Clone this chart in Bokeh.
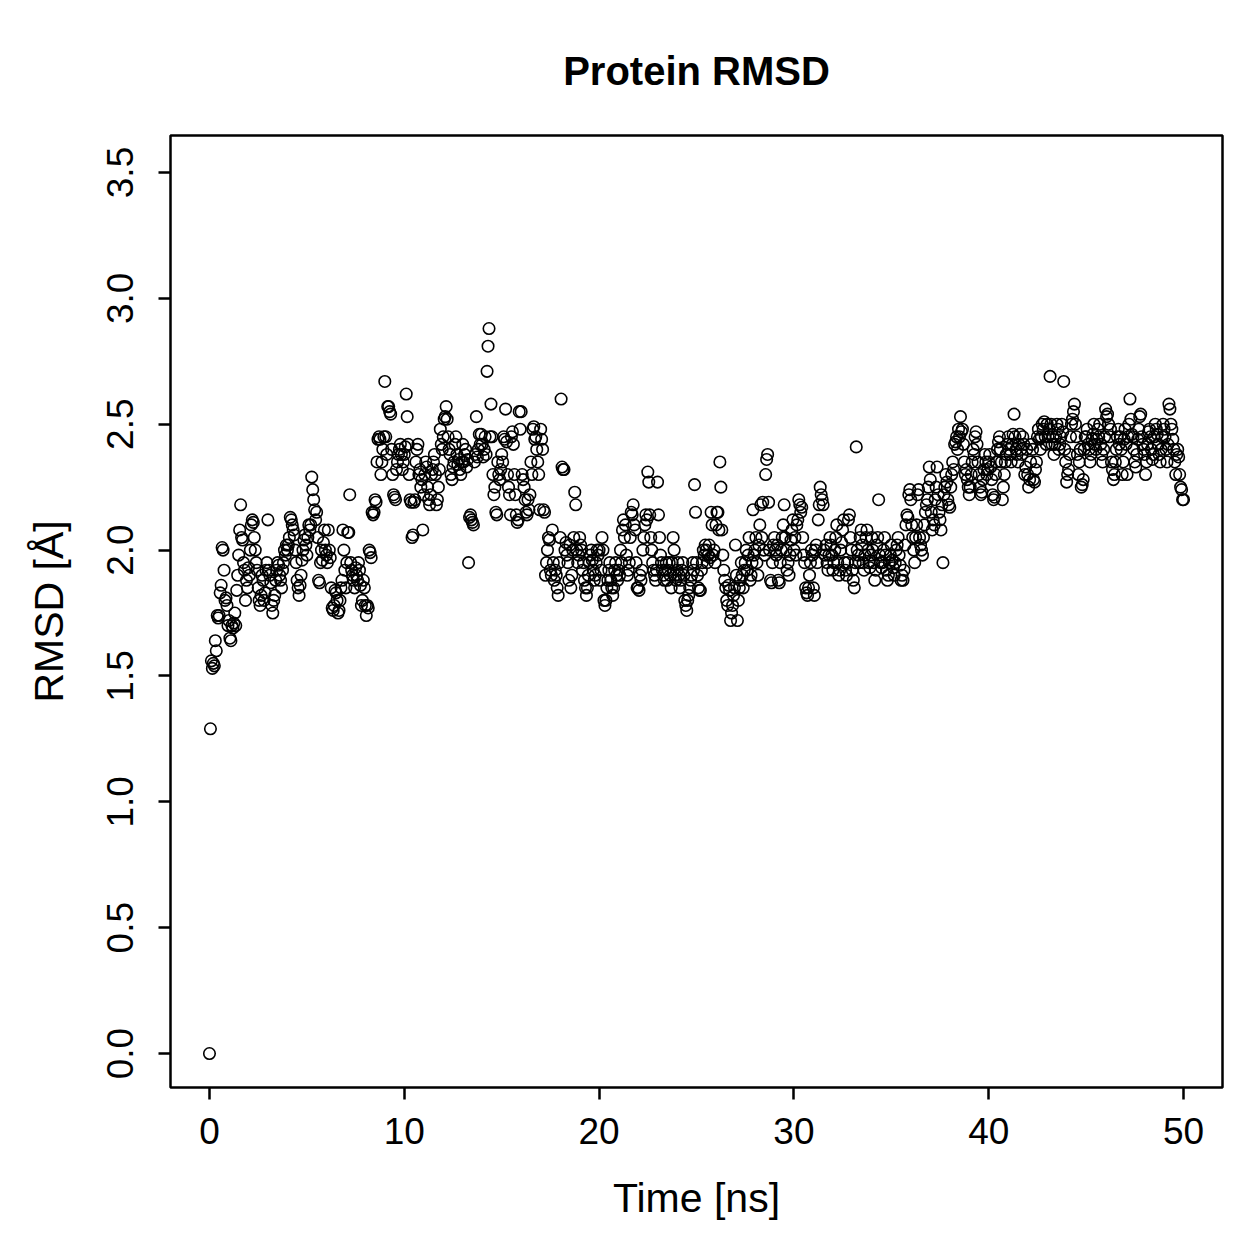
from bokeh.plotting import figure
from bokeh.models import FixedTicker, Range1d
from bokeh.embed import file_html
from bokeh.resources import INLINE

# Sampling interval of the trajectory (ns)
time_step_ns = 0.05

# Protein RMSD (Angstrom), one value per frame, grouped in 10 ns blocks
rmsd_00_10 = [
    0.00, 1.29, 1.56, 1.53, 1.55, 1.54, 1.64, 1.60, 1.74, 1.73,
    1.74, 1.83, 1.86, 2.01, 2.00, 1.92, 1.80, 1.81, 1.78, 1.70,
    1.72, 1.65, 1.64, 1.70, 1.69, 1.71, 1.75, 1.70, 1.84, 1.90,
    1.98, 2.08, 2.18, 2.05, 2.04, 1.95, 1.92, 1.80, 1.88, 1.85,
    1.93, 1.90, 2.00, 2.10, 2.12, 2.11, 2.05, 2.00, 1.95, 1.92,
    1.85, 1.80, 1.78, 1.82, 1.90, 1.88, 1.80, 1.83, 1.92, 1.95,
    2.12, 1.92, 1.90, 1.87, 1.78, 1.75, 1.80, 1.82, 1.88, 1.92,
    1.95, 1.94, 1.90, 1.88, 1.85, 1.92, 1.95, 2.00, 1.98, 2.02,
    2.00, 2.02, 2.05, 2.13, 2.12, 2.10, 2.08, 2.06, 2.00, 1.95,
    1.88, 1.85, 1.82, 1.86, 1.90, 1.96, 2.00, 2.04, 2.06, 2.02,
    1.98, 2.05, 2.10, 2.08, 2.10, 2.29, 2.24, 2.20, 2.16, 2.12,
    2.15, 2.05, 1.88, 1.87, 1.95, 2.00, 1.96, 2.03, 2.08, 2.00,
    1.98, 1.95, 2.08, 2.00, 1.97, 1.85, 1.77, 1.76, 1.78, 1.84,
    1.83, 1.80, 1.75, 1.76, 1.80, 1.85, 1.88, 2.08, 2.00, 1.92,
    1.85, 1.95, 2.07, 2.07, 2.22, 1.95, 1.92, 1.90, 1.88, 1.85,
    1.93, 1.90, 1.88, 1.95, 1.92, 1.86, 1.78, 1.80, 1.88, 1.85,
    1.78, 1.74, 1.78, 1.77, 2.00, 1.99, 1.97, 2.15, 2.14, 2.15,
    2.20, 2.19, 2.35, 2.44, 2.45, 2.44, 2.30, 2.35, 2.40, 2.45,
    2.67, 2.45, 2.38, 2.57, 2.57, 2.55, 2.54, 2.40, 2.30, 2.22,
    2.21, 2.20, 2.32, 2.35, 2.38, 2.40, 2.42, 2.38, 2.32, 2.35,
]
rmsd_10_20 = [
    2.38, 2.41, 2.62, 2.53, 2.42, 2.30, 2.20, 2.19, 2.05, 2.06,
    2.19, 2.20, 2.35, 2.40, 2.42, 2.30, 2.32, 2.25, 2.28, 2.08,
    2.22, 2.30, 2.35, 2.33, 2.25, 2.20, 2.18, 2.22, 2.30, 2.32,
    2.35, 2.38, 2.30, 2.18, 2.20, 2.25, 2.32, 2.48, 2.42, 2.40,
    2.45, 2.52, 2.53, 2.57, 2.52, 2.45, 2.40, 2.38, 2.30, 2.28,
    2.33, 2.35, 2.42, 2.45, 2.38, 2.34, 2.36, 2.32, 2.30, 2.35,
    2.42, 2.35, 2.38, 2.40, 2.33, 2.36, 1.95, 2.13, 2.14, 2.12,
    2.11, 2.10, 2.35, 2.38, 2.53, 2.37, 2.40, 2.46, 2.42, 2.46,
    2.42, 2.37, 2.40, 2.45, 2.38, 2.71, 2.81, 2.88, 2.45, 2.58,
    2.45, 2.30, 2.22, 2.25, 2.15, 2.14, 2.35, 2.30, 2.28, 2.32,
    2.38, 2.35, 2.45, 2.44, 2.56, 2.43, 2.30, 2.25, 2.22, 2.14,
    2.45, 2.47, 2.42, 2.30, 2.22, 2.14, 2.11, 2.12, 2.55, 2.48,
    2.55, 2.30, 2.28, 2.25, 2.20, 2.15, 2.14, 2.20, 2.16, 2.22,
    2.35, 2.30, 2.48, 2.49, 2.44, 2.45, 2.40, 2.35, 2.30, 2.16,
    2.48, 2.44, 2.40, 2.16, 2.15, 1.90, 1.95, 2.00, 2.05, 2.04,
    1.92, 1.90, 2.08, 1.95, 1.88, 1.92, 1.90, 1.85, 1.82, 1.95,
    2.05, 2.60, 2.33, 2.32, 2.32, 2.00, 2.03, 1.98, 1.95, 1.88,
    2.02, 1.85, 1.90, 2.00, 2.05, 2.23, 2.18, 2.00, 1.95, 1.98,
    2.05, 2.02, 2.00, 1.92, 1.95, 1.88, 1.85, 1.82, 1.85, 1.90,
    1.95, 1.98, 2.00, 1.96, 1.92, 1.88, 1.90, 1.95, 2.00, 1.98,
]
rmsd_20_30 = [
    2.00, 1.88, 1.92, 2.05, 2.00, 1.80, 1.78, 1.80, 1.85, 1.88,
    1.92, 1.95, 1.88, 1.85, 1.82, 1.85, 1.92, 1.95, 1.90, 1.88,
    1.92, 1.90, 2.00, 1.95, 2.08, 2.12, 2.05, 2.10, 1.98, 1.90,
    1.92, 1.95, 2.05, 2.15, 2.14, 2.18, 2.10, 2.08, 1.95, 1.85,
    1.85, 1.84, 1.90, 1.88, 1.92, 2.00, 2.05, 2.10, 2.14, 2.12,
    2.31, 2.27, 2.14, 2.05, 2.00, 1.95, 1.92, 1.90, 1.88, 1.92,
    2.27, 2.14, 2.05, 1.98, 1.95, 1.92, 1.90, 1.88, 1.92, 1.95,
    1.88, 1.92, 1.95, 1.90, 1.85, 1.95, 2.05, 2.00, 1.90, 1.88,
    1.92, 1.95, 1.90, 1.85, 1.88, 1.92, 1.95, 1.90, 1.80, 1.78,
    1.76, 1.80, 1.82, 1.85, 1.88, 1.90, 1.95, 1.92, 2.26, 2.15,
    1.95, 1.90, 1.85, 1.84, 1.84, 1.92, 1.95, 2.00, 1.98, 2.02,
    2.00, 1.95, 1.98, 2.02, 1.97, 2.15, 2.10, 1.98, 2.00, 1.95,
    2.10, 2.15, 2.15, 2.08, 2.35, 2.25, 2.08, 1.98, 1.92, 1.88,
    1.85, 1.80, 1.78, 1.86, 1.84, 1.72, 1.75, 1.78, 1.82, 1.85,
    2.02, 1.90, 1.72, 1.80, 1.85, 1.88, 1.95, 1.90, 1.85, 1.92,
    1.95, 2.00, 1.92, 1.98, 2.05, 1.88, 1.90, 1.95, 2.16, 1.98,
    2.00, 2.05, 1.95, 1.90, 2.02, 2.10, 2.18, 2.05, 2.19, 2.00,
    1.98, 2.30, 2.36, 2.38, 2.19, 2.00, 1.88, 1.87, 1.95, 2.02,
    2.05, 2.00, 1.98, 2.02, 1.88, 1.87, 1.95, 2.00, 2.05, 2.10,
    2.18, 2.05, 2.00, 1.92, 1.95, 1.90, 1.98, 2.04, 2.08, 2.12,
]
rmsd_30_40 = [
    2.00, 2.05, 1.98, 2.10, 2.12, 2.20, 2.18, 2.15, 2.17, 2.05,
    1.98, 1.95, 1.85, 1.83, 1.82, 1.85, 1.90, 1.95, 2.00, 1.98,
    1.85, 1.82, 2.00, 2.02, 1.95, 2.12, 2.18, 2.25, 2.22, 2.20,
    2.18, 2.00, 1.98, 2.02, 1.95, 1.92, 1.98, 2.05, 2.02, 1.98,
    1.92, 1.95, 2.00, 2.05, 2.10, 1.95, 1.90, 1.92, 2.00, 2.03,
    2.08, 2.12, 1.95, 1.92, 1.90, 1.95, 2.12, 2.14, 2.05, 2.00,
    1.92, 1.88, 1.85, 1.95, 2.41, 2.00, 1.98, 1.95, 2.05, 2.08,
    2.02, 1.95, 1.92, 1.98, 2.05, 2.08, 2.00, 1.95, 1.93, 1.98,
    2.05, 2.00, 1.95, 1.88, 1.92, 2.02, 2.05, 2.20, 1.98, 1.95,
    1.93, 1.95, 2.00, 2.05, 1.98, 1.92, 1.88, 1.90, 1.95, 1.98,
    2.02, 1.96, 1.93, 1.90, 1.95, 2.00, 2.02, 2.05, 1.98, 1.94,
    1.88, 1.90, 1.88, 1.92, 2.02, 2.10, 2.14, 2.13, 2.22, 2.24,
    2.20, 2.10, 2.05, 2.00, 1.95, 2.05, 2.10, 2.22, 2.24, 2.05,
    2.02, 2.00, 1.98, 2.05, 2.10, 2.15, 2.18, 2.20, 2.25, 2.33,
    2.28, 2.15, 2.08, 2.12, 2.10, 2.20, 2.25, 2.33, 2.22, 2.15,
    2.12, 2.08, 2.18, 1.95, 2.22, 2.25, 2.30, 2.27, 2.20, 2.18,
    2.17, 2.25, 2.30, 2.35, 2.32, 2.42, 2.43, 2.45, 2.40, 2.48,
    2.45, 2.53, 2.47, 2.48, 2.42, 2.35, 2.30, 2.32, 2.28, 2.25,
    2.22, 2.25, 2.30, 2.35, 2.40, 2.38, 2.45, 2.47, 2.42, 2.35,
    2.30, 2.25, 2.22, 2.23, 2.28, 2.32, 2.38, 2.35, 2.30, 2.32,
]
rmsd_40_50 = [
    2.35, 2.38, 2.33, 2.28, 2.22, 2.20, 2.21, 2.30, 2.35, 2.40,
    2.43, 2.45, 2.40, 2.35, 2.20, 2.25, 2.30, 2.35, 2.38, 2.42,
    2.45, 2.40, 2.38, 2.35, 2.42, 2.46, 2.54, 2.45, 2.40, 2.38,
    2.35, 2.42, 2.46, 2.40, 2.38, 2.45, 2.42, 2.30, 2.33, 2.40,
    2.30, 2.25, 2.28, 2.35, 2.42, 2.40, 2.28, 2.27, 2.32, 2.35,
    2.45, 2.48, 2.44, 2.40, 2.45, 2.50, 2.48, 2.51, 2.45, 2.42,
    2.50, 2.45, 2.48, 2.69, 2.50, 2.42, 2.45, 2.38, 2.42, 2.45,
    2.50, 2.48, 2.40, 2.42, 2.45, 2.50, 2.47, 2.67, 2.40, 2.35,
    2.27, 2.30, 2.32, 2.38, 2.45, 2.50, 2.52, 2.55, 2.58, 2.50,
    2.45, 2.38, 2.30, 2.35, 2.40, 2.25, 2.26, 2.28, 2.40, 2.45,
    2.45, 2.48, 2.42, 2.40, 2.35, 2.38, 2.44, 2.46, 2.50, 2.42,
    2.40, 2.44, 2.48, 2.45, 2.50, 2.42, 2.38, 2.35, 2.40, 2.45,
    2.56, 2.53, 2.54, 2.50, 2.45, 2.48, 2.35, 2.32, 2.28, 2.30,
    2.35, 2.40, 2.45, 2.48, 2.42, 2.45, 2.40, 2.30, 2.35, 2.44,
    2.48, 2.42, 2.30, 2.45, 2.50, 2.60, 2.52, 2.46, 2.45, 2.40,
    2.35, 2.33, 2.38, 2.44, 2.48, 2.53, 2.54, 2.45, 2.42, 2.40,
    2.38, 2.30, 2.35, 2.42, 2.47, 2.48, 2.45, 2.40, 2.36, 2.38,
    2.45, 2.50, 2.48, 2.46, 2.42, 2.38, 2.35, 2.40, 2.45, 2.50,
    2.48, 2.45, 2.40, 2.35, 2.42, 2.58, 2.56, 2.50, 2.48, 2.44,
    2.40, 2.35, 2.30, 2.38, 2.40, 2.37, 2.30, 2.25, 2.24, 2.20,
]
rmsd_final = [2.20]

x_ticks = [0, 10, 20, 30, 40, 50]
y_ticks = [0.0, 0.5, 1.0, 1.5, 2.0, 2.5, 3.0, 3.5]
y_tick_labels = ["0.0", "0.5", "1.0", "1.5", "2.0", "2.5", "3.0", "3.5"]

rmsd = rmsd_00_10 + rmsd_10_20 + rmsd_20_30 + rmsd_30_40 + rmsd_40_50 + rmsd_final
time_ns = [round(i * time_step_ns, 3) for i in range(len(rmsd))]

FONT = "Liberation Sans"

p = figure(
    width=1259, height=1259,
    x_range=Range1d(-2, 52), y_range=Range1d(-0.135, 3.647),
    output_backend="svg", toolbar_location=None,
    min_border_left=170, min_border_right=37,
    min_border_top=135, min_border_bottom=172,
    background_fill_color="white", border_fill_color="white",
)

p.title.text = "Protein RMSD"
p.title.align = "center"
p.title.text_font = FONT
p.title.text_font_style = "bold"
p.title.text_font_size = "40px"
p.title.text_color = "black"
p.title.standoff = 85

p.grid.visible = False
p.outline_line_color = "black"
p.outline_line_width = 2.5

p.scatter(time_ns, rmsd, marker="circle", size=11.5,
          fill_color=None, line_color="black", line_width=1.6)

for ax in (p.xaxis[0], p.yaxis[0]):
    ax.axis_line_color = None
    ax.major_tick_in = 0
    ax.major_tick_out = 12
    ax.major_tick_line_width = 2.5
    ax.major_tick_line_color = "black"
    ax.minor_tick_line_color = None
    ax.major_label_text_font = FONT
    ax.major_label_text_font_size = "37px"
    ax.major_label_text_color = "black"
    ax.axis_label_text_font = FONT
    ax.axis_label_text_font_size = "41px"
    ax.axis_label_text_font_style = "normal"
    ax.axis_label_text_color = "black"

p.xaxis.ticker = FixedTicker(ticks=x_ticks)
p.xaxis.axis_label = "Time [ns]"
p.xaxis.major_label_standoff = 18
p.xaxis.axis_label_standoff = 28

p.yaxis.ticker = FixedTicker(ticks=y_ticks)
p.yaxis.major_label_overrides = {t: s for t, s in zip(y_ticks, y_tick_labels)}
p.yaxis.major_label_orientation = "vertical"
p.yaxis.axis_label = "RMSD [Å]"
p.yaxis.major_label_standoff = 25
p.yaxis.axis_label_standoff = 33

open("out.html", "w").write(file_html(p, INLINE))
